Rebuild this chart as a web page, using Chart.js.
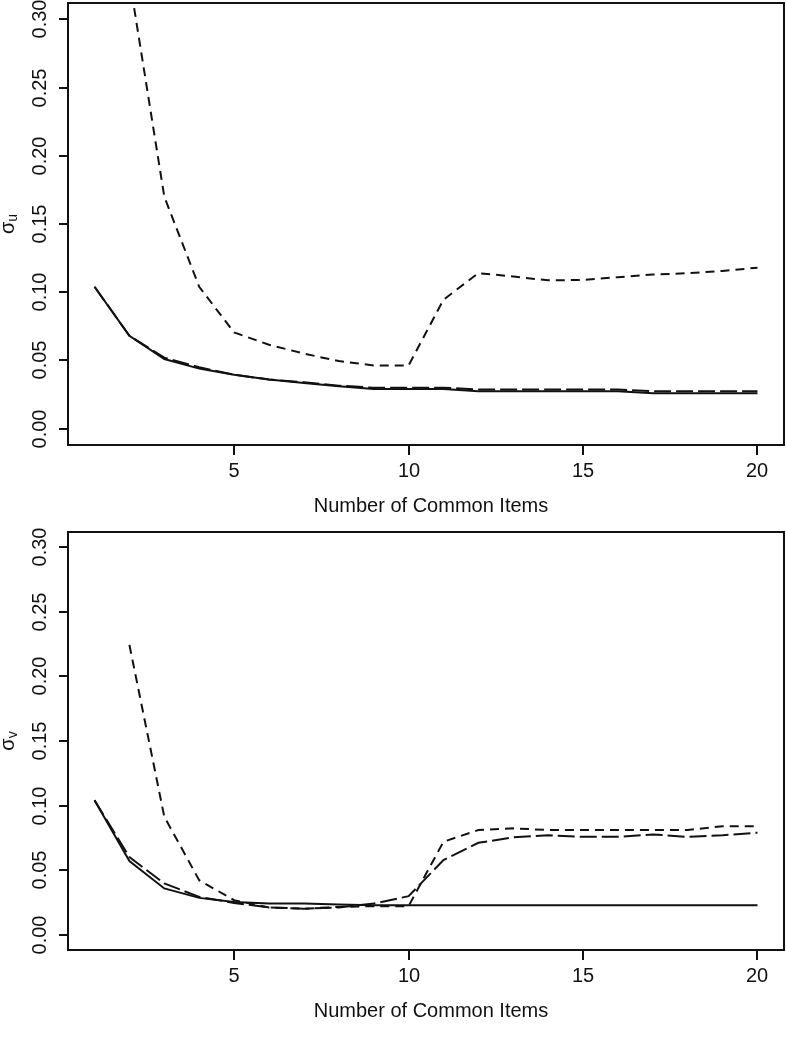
<!DOCTYPE html>
<html>
<head>
<meta charset="utf-8">
<script src="https://cdn.jsdelivr.net/npm/chart.js@4/dist/chart.umd.min.js"></script>
<style>
  html, body { margin: 0; padding: 0; background: #fff; }
  canvas { position: absolute; left: 0; }
  #chart-u { top: 0; }
  #chart-v { top: 520px; }
</style>
</head>
<body>
<canvas id="chart-u" width="786" height="520"></canvas>
<canvas id="chart-v" width="786" height="532"></canvas>
<script>
// Data
var items = [1, 2, 3, 4, 5, 6, 7, 8, 9, 10, 11, 12, 13, 14, 15, 16, 17, 18, 19, 20];
var xTicks = [5, 10, 15, 20];
var yTicks = [0, 0.05, 0.10, 0.15, 0.20, 0.25, 0.30];
var xTitle = 'Number of Common Items';

// sigma u
var uSolid = [0.104, 0.068, 0.051, 0.044, 0.0395, 0.036, 0.0335, 0.031, 0.029, 0.029,
    0.029, 0.0274, 0.0274, 0.0274, 0.0274, 0.0274, 0.026, 0.026, 0.026, 0.026];
var uLongDash = [0.104, 0.068, 0.052, 0.045, 0.0395, 0.036, 0.034, 0.0315, 0.030, 0.030,
    0.030, 0.0287, 0.0287, 0.0287, 0.0287, 0.0287, 0.0274, 0.0274, 0.0274, 0.0274];
var uShortDash = [null, 0.33, 0.170, 0.104, 0.0705, 0.0615, 0.055, 0.0495, 0.0463, 0.0463,
    0.0945, 0.114, 0.1115, 0.1087, 0.109, 0.111, 0.113, 0.1139, 0.1156, 0.118];

// sigma v
var vSolid = [0.104, 0.057, 0.0357, 0.0284, 0.0253, 0.024, 0.024, 0.0233, 0.0227, 0.0227,
    0.0227, 0.0227, 0.0227, 0.0227, 0.0227, 0.0227, 0.0227, 0.0227, 0.0227, 0.0227];
var vLongDash = [0.104, 0.060, 0.0396, 0.0292, 0.0245, 0.021, 0.020, 0.021, 0.024, 0.0297,
    0.0577, 0.0711, 0.0753, 0.077, 0.0757, 0.0757, 0.0776, 0.0757, 0.077, 0.0789];
var vShortDash = [null, 0.2245, 0.0913, 0.0421, 0.0266, 0.021, 0.020, 0.0214, 0.022, 0.022,
    0.0719, 0.081, 0.0823, 0.081, 0.081, 0.081, 0.081, 0.081, 0.084, 0.084];

var FONT = '"Liberation Sans", Arial, Helvetica, sans-serif';

function toPoints(values) {
    return items.map(function (x, i) { return { x: x, y: values[i] }; });
}

function makeSet(values, dash) {
    return {
        data: toPoints(values),
        borderColor: '#111',
        borderWidth: 2,
        borderDash: dash,
        pointRadius: 0,
        tension: 0,
        fill: false,
        spanGaps: false
    };
}

// R-style box, ticks and labels drawn from the chart's own scales
var rAxes = {
    id: 'rAxes',
    afterDraw: function (chart, args, opts) {
        var ctx = chart.ctx;
        var a = chart.chartArea;
        var xs = chart.scales.x;
        var ys = chart.scales.y;
        ctx.save();
        ctx.strokeStyle = '#111';
        ctx.fillStyle = '#111';
        ctx.lineWidth = 2;
        ctx.strokeRect(a.left, a.top, a.right - a.left, a.bottom - a.top);

        // x ticks
        ctx.font = '20px ' + FONT;
        ctx.textAlign = 'center';
        ctx.textBaseline = 'alphabetic';
        xTicks.forEach(function (t) {
            var px = Math.round(xs.getPixelForValue(t));
            ctx.beginPath();
            ctx.moveTo(px, a.bottom);
            ctx.lineTo(px, a.bottom + 10);
            ctx.stroke();
            ctx.fillText(String(t), px, a.bottom + 32);
        });
        ctx.fillText(xTitle, (a.left + a.right) / 2 + 5, a.bottom + 67);

        // y ticks (rotated labels)
        yTicks.forEach(function (t) {
            var py = Math.round(ys.getPixelForValue(t));
            ctx.beginPath();
            ctx.moveTo(a.left, py);
            ctx.lineTo(a.left - 9, py);
            ctx.stroke();
            ctx.save();
            ctx.translate(a.left - 22, py);
            ctx.rotate(-Math.PI / 2);
            ctx.fillText(t.toFixed(2), 0, 0);
            ctx.restore();
        });

        // y title: sigma with subscript
        var cy = (a.top + a.bottom) / 2;
        ctx.save();
        ctx.translate(14, cy);
        ctx.rotate(-Math.PI / 2);
        ctx.textAlign = 'left';
        ctx.font = '20px ' + FONT;
        var w1 = ctx.measureText('σ').width;
        ctx.font = '14px ' + FONT;
        var w2 = ctx.measureText(opts.sub).width;
        var start = -(w1 + w2) / 2;
        ctx.font = '20px ' + FONT;
        ctx.fillText('σ', start, 0);
        ctx.font = '14px ' + FONT;
        ctx.fillText(opts.sub, start + w1, 3);
        ctx.restore();

        ctx.restore();
    }
};

function makeChart(id, solid, longDash, shortDash, sub, padding) {
    return new Chart(document.getElementById(id).getContext('2d'), {
        type: 'line',
        data: {
            datasets: [
                makeSet(solid, []),
                makeSet(longDash, [17, 5]),
                makeSet(shortDash, [9, 6])
            ]
        },
        options: {
            responsive: false,
            animation: false,
            devicePixelRatio: 1,
            layout: { padding: padding },
            plugins: {
                legend: { display: false },
                tooltip: { enabled: false },
                rAxes: { sub: sub }
            },
            scales: {
                x: { type: 'linear', min: 0.24, max: 20.76, display: false },
                y: { type: 'linear', min: -0.012, max: 0.312, display: false }
            }
        },
        plugins: [rAxes]
    });
}

makeChart('chart-u', uSolid, uLongDash, uShortDash, 'u', { left: 68, right: 2, top: 3, bottom: 75 });
makeChart('chart-v', vSolid, vLongDash, vShortDash, 'v', { left: 68, right: 2, top: 12, bottom: 102 });
</script>
</body>
</html>
